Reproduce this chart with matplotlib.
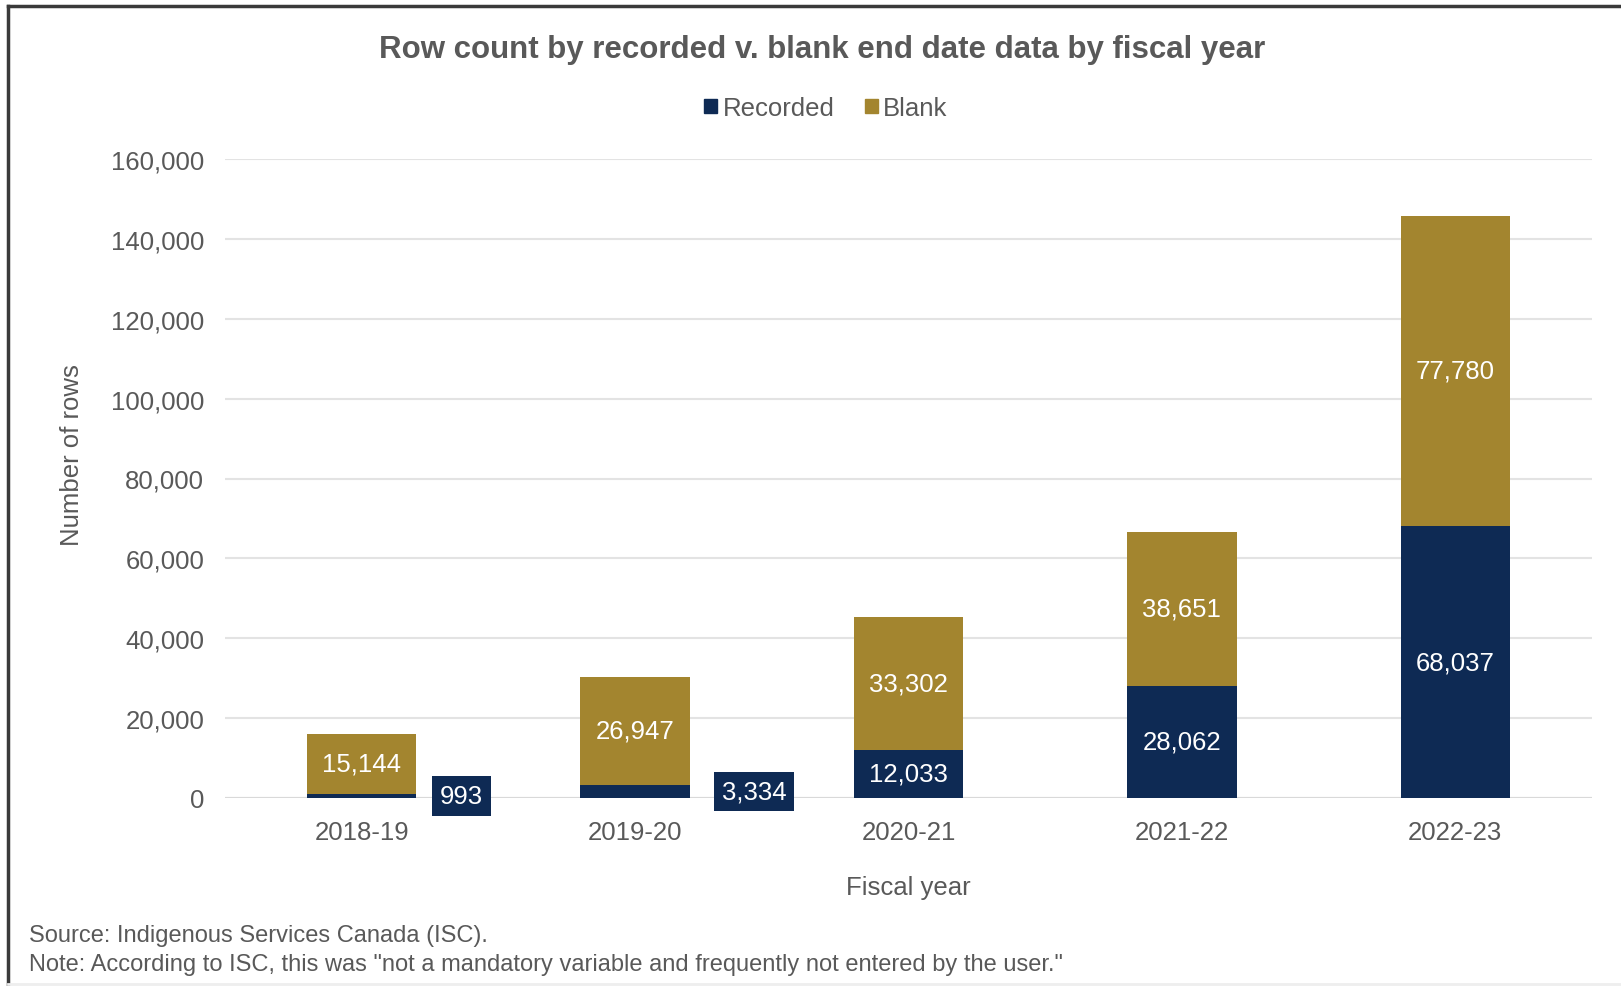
import numpy as np
import matplotlib
matplotlib.use("Agg")
import matplotlib.pyplot as plt
from matplotlib.lines import Line2D
from matplotlib.patches import Patch

plt.rcParams['font.family'] = ['Liberation Sans', 'DejaVu Sans']

years = ['2018-19', '2019-20', '2020-21', '2021-22', '2022-23']
recorded = [993, 3334, 12033, 28062, 68037]
blank = [15144, 26947, 33302, 38651, 77780]

navy = '#0E2A54'
gold = '#A3852F'
grey_txt = '#595959'

fig = plt.figure(figsize=(16.21, 9.87), dpi=100)
ax = fig.add_axes([225/1621, 1-799/987, (1592-225)/1621, (799-160)/987])

x = np.arange(len(years))
w = 0.4
b1 = ax.bar(x, recorded, w, color=navy, label='Recorded', zorder=3)
b2 = ax.bar(x, blank, w, bottom=recorded, color=gold, label='Blank', zorder=3)

ax.set_xlim(-0.5, len(years) - 0.5)
ax.set_ylim(0, 160000)
ax.set_yticks(np.arange(0, 160001, 20000))
ax.yaxis.set_major_formatter(matplotlib.ticker.FuncFormatter(lambda v, p: f'{int(v):,}'))
ax.set_xticks(x)
ax.set_xticklabels(years)
ax.tick_params(axis='both', length=0, labelsize=18.5, colors=grey_txt)
ax.tick_params(axis='x', pad=16)
ax.tick_params(axis='y', pad=15)
ax.grid(axis='y', color='#E3E3E3', linewidth=1.5, zorder=0)
for s in ax.spines.values():
    s.set_visible(False)
ax.axhline(0, color='#D9D9D9', linewidth=1.5, zorder=2)

ax.set_xlabel('Fiscal year', fontsize=18.5, color=grey_txt, labelpad=22)
fig.text(72/1621, 1-455/987, 'Number of rows', rotation=90, fontsize=18.5,
         color=grey_txt, ha='center', va='center')

# data labels
for i in range(len(years)):
    ax.text(x[i], recorded[i] + blank[i] / 2, f'{blank[i]:,}', ha='center', va='center',
            color='white', fontsize=18.5, zorder=4)
    if recorded[i] > 8000:
        ax.text(x[i], recorded[i] / 2, f'{recorded[i]:,}', ha='center', va='center',
                color='white', fontsize=18.5, zorder=4)

# small recorded values pushed out to the right
shifts = [100, 119]
for i, dx in enumerate(shifts):
    ax.annotate(f'{recorded[i]:,}', xy=(x[i], recorded[i] / 2), xytext=(dx, 0),
                textcoords='offset pixels', ha='center', va='center', color='white',
                fontsize=18.5, zorder=5,
                bbox=dict(boxstyle='square,pad=0.3', fc=navy, ec='none'))

fig.text(822/1621, 1-50/987, 'Row count by recorded v. blank end date data by fiscal year',
         ha='center', va='center', fontsize=22.5, fontweight='bold', color=grey_txt)

handles = [Patch(color=navy), Patch(color=gold)]
fig.legend(handles, ['Recorded', 'Blank'], loc='center', bbox_to_anchor=(826/1621, 1-109/987),
           ncol=2, frameon=False, fontsize=18.5, handlelength=0.5, handleheight=0.5,
           handletextpad=0.2, columnspacing=1.2, labelcolor=grey_txt)

fig.text(29/1621, 1-936/987, 'Source: Indigenous Services Canada (ISC).', fontsize=17,
         color=grey_txt, va='center')
fig.text(29/1621, 1-965/987,
         'Note: According to ISC, this was "not a mandatory variable and frequently not entered by the user."',
         fontsize=17, color=grey_txt, va='center')

# frame around the picture
fig.add_artist(Line2D([8/1621, 8/1621], [0, 1-7/987], color='#3A3A3A', linewidth=2.5))
fig.add_artist(Line2D([8/1621, 1], [1-7/987, 1-7/987], color='#3A3A3A', linewidth=2.5))
fig.add_artist(Line2D([8/1621, 1], [1-985/987, 1-985/987], color='#EEEEEE', linewidth=2))

fig.savefig('out.png', dpi=100)
